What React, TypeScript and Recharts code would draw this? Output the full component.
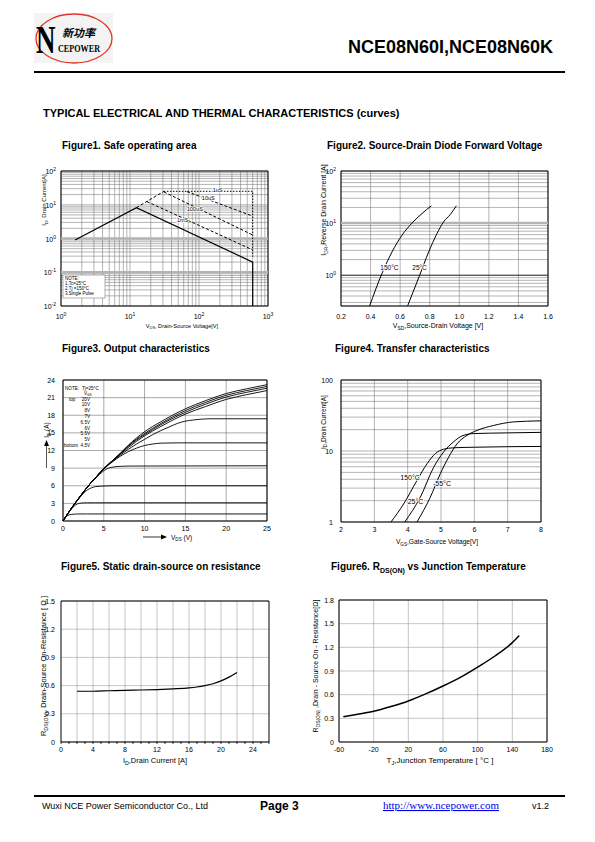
import React from 'react';
import { LineChart, Line, XAxis, YAxis, CartesianGrid, ReferenceLine, ReferenceDot, ReferenceArea } from 'recharts';

const FONT = '"Liberation Sans", Arial, sans-serif';
const SERIF = '"Liberation Serif", "Times New Roman", serif';

// ---- Figure1: safe operating area (log-log) ----
const soaDcV = [1.6, 12.4, 600, 600];
const soaDcI = [0.9, 8.2, 0.2, 0.01];
const soaRiseV = [12.4, 31];
const soaRiseI = [8.2, 25];
const soa1usV = [31, 600, 600];
const soa1usI = [25, 25, 0.29];
const soa10usV = [67, 600];
const soa10usI = [24.5, 4.6];
const soa100usV = [31, 600];
const soa100usI = [24, 1.27];
const soa1msV = [17.6, 600];
const soa1msI = [12.4, 0.46];

// ---- Figure2: diode forward voltage ----
const diode150V = [0.394, 0.477, 0.545, 0.613, 0.68, 0.748, 0.811];
const diode150I = [0.26, 1.08, 2.8, 5.9, 10, 15.3, 21.5];
const diode25V = [0.651, 0.732, 0.793, 0.849, 0.894, 0.94, 0.98];
const diode25I = [0.26, 1.0, 2.8, 6.3, 10.6, 14.7, 21.5];
const diodeXTicks = [0.2, 0.4, 0.6, 0.8, 1.0, 1.2, 1.4, 1.6];

// ---- Figure3: output characteristics ----
const outHiV = [0, 1, 2, 3, 4, 5, 6, 7, 8, 10, 12, 15, 17.5, 20, 22.5, 25];
const out20V = [0, 2.1, 4, 5.8, 7.4, 8.9, 10.2, 11.5, 12.9, 15.2, 16.9, 19.1, 20.5, 21.7, 22.5, 23.2];
const out10V = [0, 2.1, 4, 5.8, 7.4, 8.9, 10.2, 11.45, 12.8, 14.9, 16.6, 18.8, 20.2, 21.4, 22.2, 22.9];
const out8V = [0, 2.1, 4, 5.8, 7.4, 8.9, 10.2, 11.4, 12.7, 14.7, 16.4, 18.5, 19.9, 21.1, 21.9, 22.6];
const out7Vhi = [0, 2.1, 4, 5.8, 7.4, 8.9, 10.2, 11.35, 12.5, 14.5, 16.1, 18.2, 19.5, 20.7, 21.5, 22.2];
const out7V_V = [0, 1, 2, 3, 4, 5, 6, 7, 8, 9, 10, 11, 12, 13, 14, 15, 16, 18, 25];
const out7V_I = [0, 2.1, 4, 5.8, 7.4, 8.9, 10.1, 11.2, 12.2, 13.1, 13.9, 14.7, 15.4, 16, 16.6, 17, 17.2, 17.4, 17.4];
const out65V_V = [0, 1, 2, 3, 4, 5, 6, 7, 8, 9, 10, 11, 12, 14, 25];
const out65V_I = [0, 2.1, 4, 5.8, 7.4, 8.85, 10, 11, 11.8, 12.4, 12.85, 13.1, 13.25, 13.3, 13.3];
const out6V_V = [0, 1, 2, 3, 4, 4.5, 5, 5.5, 6, 7, 8, 25];
const out6V_I = [0, 2.1, 4, 5.8, 7.3, 7.95, 8.55, 8.95, 9.15, 9.3, 9.35, 9.4];
const out55V_V = [0, 1, 2, 2.5, 3, 3.5, 4, 5, 6, 25];
const out55V_I = [0, 2.1, 3.9, 4.7, 5.3, 5.65, 5.85, 5.95, 6, 6];
const out5V_V = [0, 0.5, 1, 1.5, 2, 2.5, 3, 4, 25];
const out5V_I = [0, 1.05, 2, 2.7, 3, 3.08, 3.1, 3.1, 3.1];
const out45V_V = [0, 0.5, 1, 1.5, 2, 3, 25];
const out45V_I = [0, 0.9, 1.12, 1.18, 1.2, 1.2, 1.2];
const outXTicks = [0, 5, 10, 15, 20, 25];
const outYTicks = [0, 3, 6, 9, 12, 15, 18, 21, 24];
const outLegend = ['20V', '10V', '8V', '7V', '6.5V', '6V', '5.5V', '5V', '4.5V'];

// ---- Figure4: transfer characteristics ----
const tr150V = [3.5, 3.88, 4.28, 4.58, 4.83, 5.08, 5.38, 6, 8];
const tr150I = [1, 1.8, 3.85, 6.6, 9.2, 10.6, 11.1, 11.3, 11.6];
const tr25V = [3.91, 4.38, 4.78, 5.08, 5.38, 5.63, 5.98, 7, 8];
const tr25I = [1, 2.24, 5.9, 9.7, 13.5, 16.3, 17.6, 18, 18.3];
const trM55V = [4.28, 4.68, 4.98, 5.23, 5.48, 5.78, 6.08, 6.58, 7.18, 8];
const trM55I = [1, 2.24, 4.8, 8.2, 12.6, 16.6, 19.5, 22.9, 25.7, 26.6];
const trXTicks = [2, 3, 4, 5, 6, 7, 8];

// ---- Figure5: on resistance vs drain current ----
const ronId = [2, 4, 6, 8, 10, 12, 14, 16, 17, 18, 19, 20, 21, 22];
const ronR = [0.54, 0.54, 0.545, 0.55, 0.553, 0.558, 0.565, 0.575, 0.585, 0.6, 0.62, 0.65, 0.69, 0.74];
const ronXMarks = [0, 1, 2, 3, 4, 5, 6, 7, 8, 9, 10, 11, 12, 13, 14, 15, 16, 17, 18, 19, 20, 21, 22, 23, 24, 25, 26];
const ronXGrid = [2, 4, 6, 8, 10, 12, 14, 16, 18, 20, 22, 24];
const ronYTicks = [0, 0.3, 0.6, 0.9, 1.2, 1.5];

// ---- Figure6: on resistance vs temperature ----
const tjT = [-55, -40, -20, 0, 20, 40, 60, 80, 100, 120, 140, 148];
const tjR = [0.32, 0.35, 0.39, 0.45, 0.52, 0.61, 0.71, 0.82, 0.95, 1.09, 1.26, 1.35];
const tjXTicks = [-60, -20, 20, 60, 100, 140, 180];
const tjYTicks = [0, 0.3, 0.6, 0.9, 1.2, 1.5, 1.8];

const zip = (xs: number[], ys: number[]) => xs.map((x, i) => ({ x, y: ys[i] }));
const logTicks = (lo: number, hi: number) => {
  const out: number[] = [];
  for (let e = lo; e < hi; e++) for (let m = 1; m < 10; m++) out.push(+(m * 10 ** e).toPrecision(2));
  out.push(10 ** hi);
  return out;
};
const isPow = (v: number) => Math.abs(Math.log10(v) - Math.round(Math.log10(v))) < 1e-6;

const YW = 40, XH = 30, PT = 6, PR = 10;

function Frame({ l, t, w, h, children }: any) {
  return (
    <div style={{ position: 'absolute', left: l - YW, top: t - PT }}>
      <LineChart width={w + YW + PR} height={h + PT + XH} margin={{ top: PT, right: PR, left: 0, bottom: 0 }}>
        {children}
      </LineChart>
    </div>
  );
}

const curve = (key: string, data: any[], opts: any = {}) => (
  <Line
    key={key}
    data={data}
    dataKey="y"
    type={opts.type ?? 'monotone'}
    stroke="#000"
    strokeWidth={opts.w ?? 1}
    strokeDasharray={opts.dash}
    dot={false}
    activeDot={false}
    isAnimationActive={false}
  />
);

const tag = (key: string, x: number, y: number, text: string, fs = 6.5) => (
  <ReferenceDot
    key={key}
    x={x}
    y={y}
    r={0}
    ifOverflow="visible"
    shape={(p: any) => (
      <text x={p.cx} y={p.cy} fontSize={fs} fontFamily={FONT} fill="#000" stroke="#fff" strokeWidth={1.5} paintOrder="stroke">
        {text}
      </text>
    )}
  />
);

const powX = (p: any) =>
  isPow(p.payload.value) ? (
    <text x={p.x} y={p.y + 11} textAnchor="middle" fontSize={7} fontFamily={FONT} fill="#000">
      10<tspan dy={-3} fontSize={5}>{Math.round(Math.log10(p.payload.value))}</tspan>
    </text>
  ) : <g />;

const powY = (p: any) =>
  isPow(p.payload.value) ? (
    <text x={p.x - 3} y={p.y + 3} textAnchor="end" fontSize={7} fontFamily={FONT} fill="#000">
      10<tspan dy={-3} fontSize={5}>{Math.round(Math.log10(p.payload.value))}</tspan>
    </text>
  ) : <g />;

const numX = (fmt: (v: number) => string, dy = 7.5) => (p: any) => (
  <text x={p.x} y={p.y + dy} textAnchor="middle" fontSize={7} fontFamily={FONT} fill="#000">{fmt(p.payload.value)}</text>
);
const numY = (fmt: (v: number) => string, gap = 4) => (p: any) => (
  <text x={p.x - gap} y={p.y + 2.5} textAnchor="end" fontSize={7} fontFamily={FONT} fill="#000">{fmt(p.payload.value)}</text>
);
const plainLogY = (p: any) =>
  isPow(p.payload.value) ? (
    <text x={p.x - 6} y={p.y + 2.5} textAnchor="end" fontSize={7} fontFamily={FONT} fill="#000">{p.payload.value}</text>
  ) : <g />;
const ronX = (p: any) => (
  <g>
    <line x1={p.x} x2={p.x} y1={p.y} y2={p.y - 2.5} stroke="#000" strokeWidth={0.8} />
    {p.payload.value % 4 === 0 && (
      <text x={p.x} y={p.y + 7.5} textAnchor="middle" fontSize={7} fontFamily={FONT} fill="#000">{p.payload.value}</text>
    )}
  </g>
);

function Fig1() {
  return (
    <Frame l={61} t={171} w={207} h={135}>
      <CartesianGrid stroke="#6a6a6a" strokeWidth={0.5} />
      <XAxis dataKey="x" type="number" scale="log" domain={[1, 1000]} ticks={logTicks(0, 3)} interval={0} allowDataOverflow axisLine={false} tickLine={false} tickSize={0} tick={powX} height={XH} />
      <YAxis type="number" scale="log" domain={[0.01, 100]} ticks={logTicks(-2, 2)} interval={0} allowDataOverflow axisLine={false} tickLine={false} tickSize={0} tick={powY} width={YW} />
      <ReferenceLine y={1} stroke="#b4b4b4" strokeWidth={2.5} />
      <ReferenceLine y={0.1} stroke="#b4b4b4" strokeWidth={2.5} />
      <ReferenceArea x1={1} x2={1000} y1={0.01} y2={100} fill="none" stroke="#000" strokeWidth={1} />
      {curve('dc', zip(soaDcV, soaDcI), { type: 'linear', w: 1.2 })}
      {curve('rise', zip(soaRiseV, soaRiseI), { type: 'linear', dash: '3 2' })}
      {curve('1us', zip(soa1usV, soa1usI), { type: 'linear', dash: '1.5 1.5' })}
      {curve('10us', zip(soa10usV, soa10usI), { type: 'linear', dash: '3 2' })}
      {curve('100us', zip(soa100usV, soa100usI), { type: 'linear', dash: '3 2' })}
      {curve('1ms', zip(soa1msV, soa1msI), { type: 'linear', dash: '3 2' })}
      {tag('t1', 158, 24.5, '1uS', 5.5)}
      {tag('t2', 110, 14.1, '10uS', 5.5)}
      {tag('t3', 67, 6.4, '100uS', 5.5)}
      {tag('t4', 48, 3.0, '1mS', 5.5)}
    </Frame>
  );
}

function Fig2() {
  return (
    <Frame l={341} t={171} w={207} h={135}>
      <CartesianGrid stroke="#6a6a6a" strokeWidth={0.5} />
      <XAxis dataKey="x" type="number" domain={[0.2, 1.6]} ticks={diodeXTicks} interval={0} allowDataOverflow axisLine={false} tickLine={false} tickSize={0} tick={numX((v) => v.toFixed(1), 11)} height={XH} />
      <YAxis type="number" scale="log" domain={[0.257, 100]} ticks={logTicks(-1, 2).filter((v) => v >= 0.3)} interval={0} allowDataOverflow axisLine={false} tickLine={false} tickSize={0} tick={powY} width={YW} />
      <ReferenceLine y={10} stroke="#b4b4b4" strokeWidth={2.5} />
      <ReferenceLine y={1} stroke="#333" strokeWidth={1} />
      <ReferenceArea x1={0.2} x2={1.6} y1={0.257} y2={100} fill="none" stroke="#000" strokeWidth={1} />
      {curve('d150', zip(diode150V, diode150I))}
      {curve('d25', zip(diode25V, diode25I))}
      {tag('a', 0.466, 1.27, '150°C')}
      {tag('b', 0.682, 1.27, '25°C')}
    </Frame>
  );
}

function Fig3() {
  return (
    <Frame l={63} t={380} w={204} h={141}>
      <CartesianGrid stroke="#555" strokeWidth={0.5} />
      <XAxis dataKey="x" type="number" domain={[0, 25]} ticks={outXTicks} interval={0} axisLine={false} tickLine={false} tickSize={0} tick={numX((v) => String(v), 8)} height={XH} />
      <YAxis type="number" domain={[0, 24]} ticks={outYTicks} interval={0} axisLine={false} tickLine={false} tickSize={0} tick={numY((v) => String(v), 6)} width={YW} />
      <ReferenceArea x1={0} x2={25} y1={0} y2={24} fill="none" stroke="#000" strokeWidth={1} />
      {curve('o20', zip(outHiV, out20V), { w: 0.9 })}
      {curve('o10', zip(outHiV, out10V), { w: 0.9 })}
      {curve('o8', zip(outHiV, out8V), { w: 0.9 })}
      {curve('o7h', zip(outHiV, out7Vhi), { w: 0.9 })}
      {curve('o7', zip(out7V_V, out7V_I), { w: 0.9 })}
      {curve('o65', zip(out65V_V, out65V_I), { w: 0.9 })}
      {curve('o6', zip(out6V_V, out6V_I), { w: 0.9 })}
      {curve('o55', zip(out55V_V, out55V_I), { w: 0.9 })}
      {curve('o5', zip(out5V_V, out5V_I), { w: 0.9 })}
      {curve('o45', zip(out45V_V, out45V_I), { w: 0.9 })}
    </Frame>
  );
}

function Fig4() {
  return (
    <Frame l={341} t={380} w={200} h={142}>
      <CartesianGrid stroke="#6a6a6a" strokeWidth={0.5} />
      <XAxis dataKey="x" type="number" domain={[2, 8]} ticks={trXTicks} interval={0} axisLine={false} tickLine={false} tickSize={0} tick={numX((v) => String(v), 8)} height={XH} />
      <YAxis type="number" scale="log" domain={[1, 100]} ticks={logTicks(0, 2)} interval={0} allowDataOverflow axisLine={false} tickLine={false} tickSize={0} tick={plainLogY} width={YW} />
      <ReferenceArea x1={2} x2={8} y1={1} y2={100} fill="none" stroke="#000" strokeWidth={1} />
      {curve('t150', zip(tr150V, tr150I))}
      {curve('t25', zip(tr25V, tr25I))}
      {curve('tm55', zip(trM55V, trM55I))}
      {tag('a', 3.78, 3.94, '150°C', 7)}
      {tag('b', 4.0, 1.78, '25°C', 7)}
      {tag('c', 4.76, 3.24, '-55°C', 7)}
    </Frame>
  );
}

function Fig5() {
  return (
    <Frame l={61} t={601} w={208} h={141}>
      <CartesianGrid stroke="#a0a0a0" strokeWidth={0.6} verticalValues={ronXGrid} horizontalValues={ronYTicks} />
      <XAxis dataKey="x" type="number" domain={[0, 26]} ticks={ronXMarks} interval={0} axisLine={false} tickLine={false} tickSize={0} tick={ronX} height={XH} />
      <YAxis type="number" domain={[0, 1.5]} ticks={ronYTicks} interval={0} axisLine={false} tickLine={false} tickSize={0} tick={numY((v) => (v === 0 ? '0' : v.toFixed(1)), 4)} width={YW} />
      <ReferenceArea x1={0} x2={26} y1={0} y2={1.5} fill="none" stroke="#000" strokeWidth={1} />
      {curve('ron', zip(ronId, ronR), { w: 1.2 })}
    </Frame>
  );
}

function Fig6() {
  return (
    <Frame l={339} t={600} w={208} h={142}>
      <CartesianGrid stroke="#a0a0a0" strokeWidth={0.6} />
      <XAxis dataKey="x" type="number" domain={[-60, 180]} ticks={tjXTicks} interval={0} axisLine={false} tickLine={false} tickSize={0} tick={numX((v) => String(v), 8)} height={XH} />
      <YAxis type="number" domain={[0, 1.8]} ticks={tjYTicks} interval={0} axisLine={false} tickLine={false} tickSize={0} tick={numY((v) => (v === 0 ? '0' : v.toFixed(1)), 3)} width={YW} />
      <ReferenceArea x1={-60} x2={180} y1={0} y2={1.8} fill="none" stroke="#000" strokeWidth={1} />
      {curve('tj', zip(tjT, tjR), { w: 1.5 })}
    </Frame>
  );
}

const T = (p: any) => <text fontFamily={FONT} fill="#000" {...p} />;

// text with one subscript: head, subscript, tail
const withSub = (head: string, sub: string, tail: string, fs: number) => [
  <tspan key="h">{head}</tspan>,
  <tspan key="s" dy={fs * 0.3} fontSize={fs * 0.7}>{sub}</tspan>,
  <tspan key="t" dy={-fs * 0.3}>{tail}</tspan>,
];

function Overlay() {
  return (
    <svg width={595} height={842} style={{ position: 'absolute', left: 0, top: 0 }}>
      {/* logo */}
      <rect x={34} y={13} width={79} height={50} fill="#f3f3f3" />
      <ellipse cx={74} cy={38.5} rx={38} ry={24.5} fill="none" stroke="#e4352c" strokeWidth={1.3} />
      <text x={0} y={0} transform="translate(36 53) scale(1 1.5)" fontFamily={SERIF} fontWeight="bold" fontSize={27}>N</text>
      <text x={62} y={37} fontFamily='"Noto Sans CJK SC"' fontWeight="bold" fontStyle="italic" fontSize={11} textLength={33} lengthAdjust="spacingAndGlyphs">新功率</text>
      <text x={58} y={52} fontFamily={SERIF} fontWeight="bold" fontSize={10} textLength={42} lengthAdjust="spacingAndGlyphs">CEPOWER</text>

      <T x={348} y={52.7} fontSize={18} fontWeight="bold">NCE08N60I,NCE08N60K</T>
      <line x1={34} x2={565} y1={72} y2={72} stroke="#000" strokeWidth={2} />
      <T x={43} y={117.3} fontSize={11} fontWeight="bold">TYPICAL ELECTRICAL AND THERMAL CHARACTERISTICS (curves)</T>

      <T x={62} y={148.5} fontSize={10} fontWeight="bold">Figure1. Safe operating area</T>
      <T x={327} y={148.5} fontSize={10} fontWeight="bold">Figure2. Source-Drain Diode Forward Voltage</T>
      <T x={62} y={351.5} fontSize={10} fontWeight="bold">Figure3. Output characteristics</T>
      <T x={335} y={351.5} fontSize={10} fontWeight="bold">Figure4. Transfer characteristics</T>
      <T x={61} y={569.5} fontSize={10} fontWeight="bold">Figure5. Static drain-source on resistance</T>
      <T x={331} y={569.5} fontSize={10} fontWeight="bold">{withSub('Figure6. R', 'DS(ON)', ' vs Junction Temperature', 10)}</T>

      {/* Figure1 labels */}
      <T x={182} y={327.7} fontSize={5.6} textAnchor="middle">{withSub('V', 'DS', ', Drain-Source Voltage[V]', 5.6)}</T>
      <T x={46} y={200} fontSize={6} textAnchor="middle" transform="rotate(-90 46 200)">{withSub('I', 'D', ', Drain Current[A]', 6)}</T>
      <rect x={63} y={275} width={42} height={23} fill="#fff" stroke="#666" strokeWidth={0.5} />
      <T x={65} y={280} fontSize={4.5}>NOTE:</T>
      <T x={65} y={285} fontSize={4.5}>1.Tc=25°C</T>
      <T x={65} y={290} fontSize={4.5}>2.Tj =150°C</T>
      <T x={65} y={295} fontSize={4.5}>3.Single Pulse</T>

      {/* Figure2 labels */}
      <T x={438} y={328} fontSize={7} textAnchor="middle">{withSub('V', 'SD', ',Source-Drain Voltage  [V]', 7)}</T>
      <T x={325.5} y={210} fontSize={7} textAnchor="middle" transform="rotate(-90 325.5 210)">{withSub('I', 'DR', ',Reverse Drain Current  [A]', 7)}</T>

      {/* Figure3 labels */}
      <T x={49} y={430} fontSize={6.5} textAnchor="middle" transform="rotate(-90 49 430)">{withSub('I', 'D', ' (A)', 6.5)}</T>
      <line x1={46.5} x2={46.5} y1={468} y2={445} stroke="#555" strokeWidth={1} />
      <path d="M44 446 L46.5 440 L49 446 Z" fill="#000" />
      <line x1={143} x2={162} y1={537} y2={537} stroke="#000" strokeWidth={0.8} />
      <path d="M161 534.5 L167 537 L161 539.5 Z" fill="#000" />
      <T x={171} y={539.5} fontSize={6.5}>{withSub('V', 'DS', ' (V)', 6.5)}</T>
      <T x={65} y={390} fontSize={4.6}>NOTE:</T>
      <T x={82} y={390} fontSize={4.6}>Tj=25°C</T>
      <T x={84} y={395} fontSize={4.6}>{withSub('V', 'GS', '', 4.6)}</T>
      <T x={69} y={400.5} fontSize={4.6}>top</T>
      <T x={64} y={447} fontSize={4.6}>bottom</T>
      {outLegend.map((s, i) => (
        <T key={s} x={90} y={400.5 + i * 5.8} fontSize={4.6} textAnchor="end">{s}</T>
      ))}

      {/* Figure4 labels */}
      <T x={437} y={544} fontSize={6.6} textAnchor="middle">{withSub('V', 'GS', ',Gate-Source Voltage[V]', 6.6)}</T>
      <T x={325.5} y={422} fontSize={6.5} textAnchor="middle" transform="rotate(-90 325.5 422)">{withSub('I', 'D', ',Drain Current[A]', 6.5)}</T>

      {/* Figure5 labels */}
      <T x={155} y={762.5} fontSize={7.5} textAnchor="middle">{withSub('I', 'D', ',Drain Current [A]', 7.5)}</T>
      <T x={46} y={666} fontSize={7.5} textAnchor="middle" transform="rotate(-90 46 666)">{withSub('R', 'DS(ON)', ', Drain-Source On-Resistance [ Ω ]', 7.5)}</T>

      {/* Figure6 labels */}
      <T x={440} y={762.5} fontSize={8} textAnchor="middle">{withSub('T', 'J', ',Junction Temperature [ °C ]', 8)}</T>
      <T x={318} y={666} fontSize={7} textAnchor="middle" transform="rotate(-90 318 666)">{withSub('R', 'DS(ON)', ' ,Drain - Source On - Resistance[Ω]', 7)}</T>

      {/* footer */}
      <line x1={34} x2={565} y1={796} y2={796} stroke="#000" strokeWidth={2} />
      <T x={42} y={809} fontSize={9}>Wuxi NCE Power Semiconductor Co., Ltd</T>
      <T x={260} y={809.5} fontSize={12} fontWeight="bold">Page 3</T>
      <text x={383} y={809} fontSize={11} fontFamily={SERIF} fill="#0000ee" style={{ textDecoration: 'underline' }}>http://www.ncepower.com</text>
      <T x={532} y={809} fontSize={9}>v1.2</T>
    </svg>
  );
}

export default function App() {
  return (
    <div style={{ position: 'relative', width: 595, height: 842, background: '#fff', overflow: 'hidden' }}>
      <style>{'body{margin:0}'}</style>
      <Fig1 />
      <Fig2 />
      <Fig3 />
      <Fig4 />
      <Fig5 />
      <Fig6 />
      <Overlay />
    </div>
  );
}
